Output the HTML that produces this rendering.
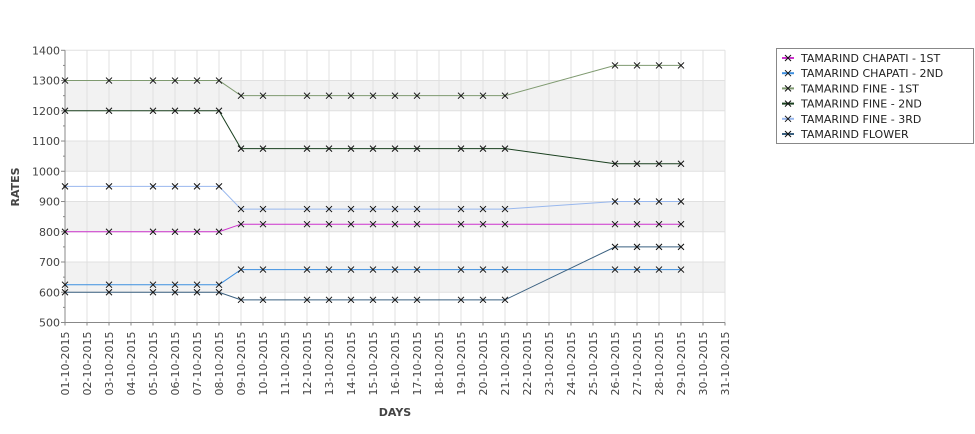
<!DOCTYPE html>
<html><head><meta charset="utf-8"><style>
body{margin:0;background:#fff;font-family:"Liberation Sans",sans-serif;}
svg text{font-family:"DejaVu Sans","Liberation Sans",sans-serif;}
</style></head><body>
<svg id="c" width="975" height="429" xmlns="http://www.w3.org/2000/svg"></svg>
<script>
const days=["01","03","05","06","07","08","09","10","12","13","14","15","16","17","19","20","21","26","27","28","29"];
const chapati1=[800,800,800,800,800,800,825,825,825,825,825,825,825,825,825,825,825,825,825,825,825];
const chapati2=[625,625,625,625,625,625,675,675,675,675,675,675,675,675,675,675,675,675,675,675,675];
const fine1=[1300,1300,1300,1300,1300,1300,1250,1250,1250,1250,1250,1250,1250,1250,1250,1250,1250,1350,1350,1350,1350];
const fine2=[1200,1200,1200,1200,1200,1200,1075,1075,1075,1075,1075,1075,1075,1075,1075,1075,1075,1025,1025,1025,1025];
const fine3=[950,950,950,950,950,950,875,875,875,875,875,875,875,875,875,875,875,900,900,900,900];
const flower=[600,600,600,600,600,600,575,575,575,575,575,575,575,575,575,575,575,750,750,750,750];
const seriesNames=["TAMARIND CHAPATI - 1ST","TAMARIND CHAPATI - 2ND","TAMARIND FINE - 1ST","TAMARIND FINE - 2ND","TAMARIND FINE - 3RD","TAMARIND FLOWER"];
const yTicks=[500,600,700,800,900,1000,1100,1200,1300,1400];
const series=[chapati1,chapati2,fine1,fine2,fine3,flower];
const colors=["#cc33cc","#3d8fe0","#7f9a70","#1a401f","#99b8ee","#3a6080"];
const svg=document.getElementById('c');const NS="http://www.w3.org/2000/svg";
const X0=65,X1=725,Y0=322.5,Y1=50.3;
const xs=d=>X0+(d-1)*(X1-X0)/30;
const ys=v=>Y0-(v-500)*(Y0-Y1)/900;
function el(t,a,p){const e=document.createElementNS(NS,t);for(const k in a)e.setAttribute(k,a[k]);(p||svg).appendChild(e);return e;}
// bands
for(let v=600;v<1400;v+=200){const b=el('rect',{x:X0,y:ys(v+100),width:X1-X0,height:ys(v)-ys(v+100),fill:'#f2f2f2'});

}
for(let d=1;d<=31;d++){const g=el('line',{x1:xs(d),x2:xs(d),y1:Y1,y2:Y0,stroke:'#e0e0e0'});


const t=el('text',{x:0,y:0,'font-size':11,fill:'#444','text-anchor':'end',transform:`translate(${xs(d)+4},${Y0+9}) rotate(-90)`});


t.textContent=String(d).padStart(2,'0')+"-10-2015";
el('line',{x1:xs(d),x2:xs(d),y1:Y0,y2:Y0+3,stroke:'#888'});}
yTicks.forEach(v=>{const g=el('line',{x1:X0,x2:X1,y1:ys(v),y2:ys(v),stroke:'#e0e0e0'});


el('line',{x1:X0-4,x2:X0,y1:ys(v),y2:ys(v),stroke:'#888'});
if(v<1400)el('line',{x1:X0-2,x2:X0,y1:ys(v+50),y2:ys(v+50),stroke:'#888'});
const t=el('text',{x:X0-5,y:ys(v)+4,'font-size':11,fill:'#444','text-anchor':'end'});


t.textContent=v;});
el('line',{x1:X0,x2:X0,y1:Y1,y2:Y0,stroke:'#888'});
el('line',{x1:X0,x2:X1,y1:Y0,y2:Y0,stroke:'#888'});
series.forEach((s,i)=>{const pts=s.map((v,j)=>xs(+days[j])+','+ys(v)).join(' ');
const l=el('polyline',{points:pts,fill:'none',stroke:colors[i],'stroke-width':1});


s.forEach((v,j)=>{const x=xs(+days[j]),y=ys(v);
const m=el('path',{d:`M${x-3},${y-3}L${x+3},${y+3}M${x-3},${y+3}L${x+3},${y-3}`,stroke:'#111','stroke-width':1});

});});
const yt=el('text',{x:0,y:0,'font-size':11,'font-weight':'bold',fill:'#444','text-anchor':'middle',transform:'translate(19,187) rotate(-90)'});


yt.textContent="RATES";
const xt=el('text',{x:395,y:416,'font-size':11,'font-weight':'bold',fill:'#444','text-anchor':'middle'});


xt.textContent="DAYS";
const lg=el('rect',{x:776.5,y:48.5,width:197,height:95,fill:'#fff',stroke:'#888'});


seriesNames.forEach((n,i)=>{const y=58+i*15.2;
el('line',{x1:782,x2:794,y1:y,y2:y,stroke:colors[i],'stroke-width':2});
el('path',{d:`M${785},${y-3}L${791},${y+3}M${785},${y+3}L${791},${y-3}`,stroke:'#111'});
const t=el('text',{x:801,y:y+4,'font-size':11,fill:'#222'});


t.textContent=n;});
</script>
</body></html>
